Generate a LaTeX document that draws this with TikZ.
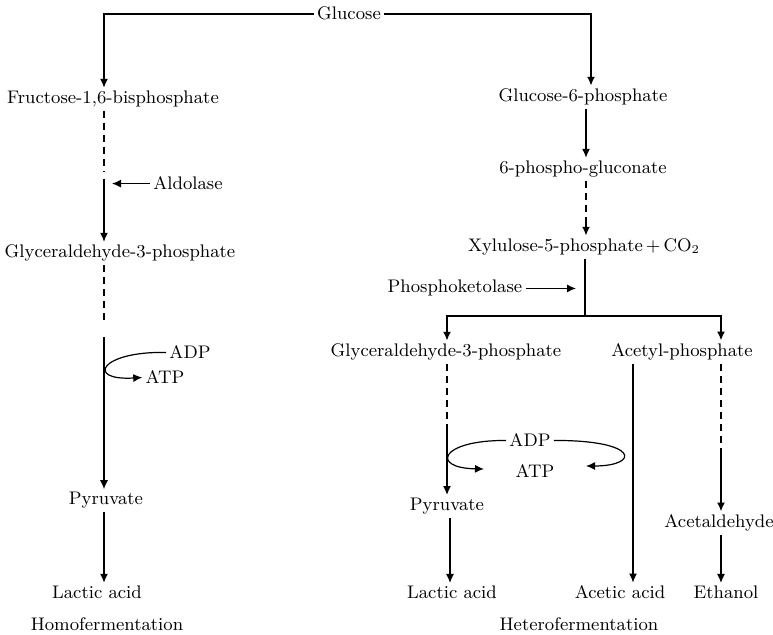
\documentclass[tikz,border=0pt]{standalone}
\usetikzlibrary{arrows.meta}

\tikzset{
  lbl/.style={anchor=base, inner sep=1.5pt, font=\fontsize{9.1}{11}\selectfont},
  flow/.style={line width=0.6pt, -{Latex[length=4.5pt,width=4pt]}},
  heavy/.style={flow, line width=1.05pt},
  gap/.style={line width=0.9pt, dash pattern=on 3.5pt off 2.5pt},
}

\begin{document}
\begin{tikzpicture}[x=0.5pt,y=-0.5pt]
\useasboundingbox (0,0) rectangle (773,635);

% columns the arrows run along
\coordinate (cL) at (104,0);
\coordinate (cT) at (591,0);
\coordinate (cR) at (586,0);
\coordinate (cG) at (447,0);
\coordinate (cP) at (450,0);
\coordinate (cC) at (633,0);
\coordinate (cA) at (721,0);

\node[lbl] (glc) at (349,20) {Glucose};

% homofermentation
\node[lbl] (fbp) at (113,104) {Fructose-1,6-bisphosphate};
\node[lbl] (ald) at (188,190) {Aldolase};
\node[lbl] (g3pL) at (120,258) {Glyceraldehyde-3-phosphate};
\node[lbl] (adpL) at (190,359) {ADP};
\node[lbl] (atpL) at (165,384) {ATP};
\node[lbl] (pyrL) at (106,505) {Pyruvate};
\node[lbl] (lacL) at (97,599) {Lactic acid};
\node[lbl] (homo) at (107,631) {Homofermentation};

% heterofermentation
\node[lbl] (g6p) at (583,102) {Glucose-6-phosphate};
\node[lbl] (pgl) at (583,174) {6-phospho-gluconate};
\node[lbl] (xyl) at (584,252) {Xylulose-5-phosphate\,+\,CO$_2$};
\node[lbl] (pkt) at (455,293) {Phosphoketolase};
\node[lbl] (g3pR) at (446,357) {Glyceraldehyde-3-phosphate};
\node[lbl] (acp) at (682,357) {Acetyl-phosphate};
\node[lbl] (adpR) at (530,447) {ADP};
\node[lbl] (atpR) at (535,478) {ATP};
\node[lbl] (pyrR) at (447,511) {Pyruvate};
\node[lbl] (acd) at (719,528) {Acetaldehyde};
\node[lbl] (lacR) at (452,599) {Lactic acid};
\node[lbl] (ace) at (620,599) {Acetic acid};
\node[lbl] (eth) at (726,599) {Ethanol};
\node[lbl] (het) at (579,631) {Heterofermentation};

% glucose splits in two
\draw[heavy] (glc.west) -| (fbp.north -| cL);
\draw[heavy] (glc.east) -| (g6p.north -| cT);

% left chain
\coordinate (l1) at (104,176);
\draw[gap] (fbp.south -| cL) -- ([yshift=2pt]l1);
\draw[flow] ([yshift=-1.5pt]l1) -- (g3pL.north -| cL);
\draw[flow] (ald.west) -- ([xshift=4pt]ald.west -| cL);

\coordinate (l2) at (104,330);
\draw[gap] (g3pL.south -| cL) -- ([yshift=3.5pt]l2);
\draw[flow] ([yshift=-3.5pt]l2) -- (pyrL.north -| cL);
\draw[flow] (adpL.west) .. controls (100,351) and (85,381) .. (atpL.west);
\draw[heavy] (pyrL.south -| cL) -- (lacL.north -| cL);

% right chain
\draw[heavy] (g6p.south -| cR) -- (pgl.north -| cR);
\coordinate (r1) at (586,224);
\draw[gap] (pgl.south -| cR) -- (r1);
\draw[heavy] (r1) -- (xyl.north -| cR);

\coordinate (split) at (585,316);
\draw[heavy,-] (xyl.south -| split) -- (split);
\draw[heavy] (split) -| (g3pR.north -| cG);
\draw[heavy] (split) -| (acp.north -| cA);
\draw[flow] (pkt.east) -- ([xshift=-4.5pt]pkt.east -| split);

\coordinate (r2) at (447,431);
\draw[gap] (g3pR.south -| cG) -- (r2);
\draw[heavy] (r2) -- (pyrR.north -| cG);
\draw[flow] (pyrR.south -| cP) -- (lacR.north -| cP);

\coordinate (tipG) at (484,469);
\coordinate (tipC) at (586,466);
\draw[flow] (adpR.west) .. controls (440,440) and (430,468) .. (tipG);
\draw[flow] (adpR.east) .. controls (640,440) and (640,466) .. (tipC);

\draw[flow] (acp.south -| cC) -- (ace.north -| cC);

\coordinate (r3) at (721,454);
\draw[gap] (acp.south -| cA) -- (r3);
\draw[heavy] (r3) -- (acd.north -| cA);
\draw[flow] (acd.south -| cA) -- (eth.north -| cA);
\end{tikzpicture}
\end{document}
